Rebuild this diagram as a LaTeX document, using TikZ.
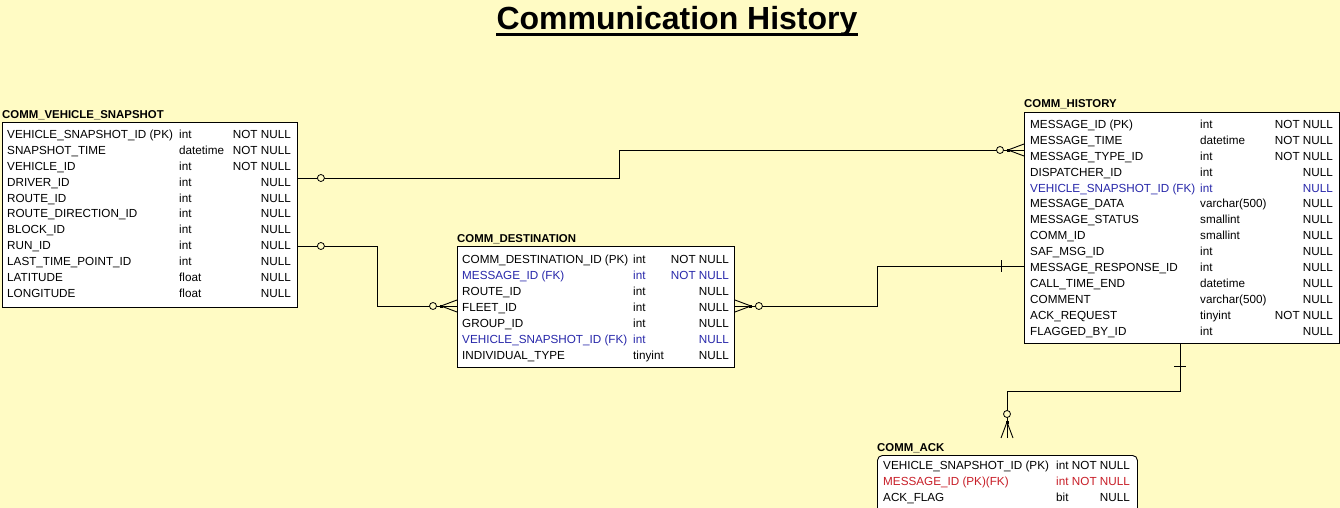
\documentclass[tikz,border=0pt]{standalone}
\usepackage{fontspec}
\setmainfont{Liberation Sans}
\usepackage{xcolor}
\usepackage{tikz}
\definecolor{paper}{RGB}{255,251,196}
\definecolor{fkblue}{RGB}{40,40,170}
\definecolor{pkred}{RGB}{200,30,40}

\begin{document}
\begin{tikzpicture}[x=1pt, y=1pt,
    tbl/.style = {draw, line width=.9pt, fill=white, inner sep=0, anchor=north west},
    tname/.style = {font=\fontsize{11.4}{13}\selectfont\bfseries, inner sep=0, anchor=base west},
    fld/.style = {font=\fontsize{11.7}{14}\selectfont, inner sep=0},
    rel/.style = {line width=.9pt},
    ocirc/.style = {draw, circle, fill=paper, line width=.8pt, inner sep=0, minimum size=7pt},
    crow/.pic = {
      \draw[rel] (0,6) -- (16,0) -- (0,-6);
      \fill (14.5,-1.5) rectangle (17.5,1.5);
      \node[ocirc] (-o) at (24,0) {};
    },
    crossbar/.pic = {\draw[rel] (23,-6) -- (23,6);}
  ]
  \fill[paper] (0,0) rectangle (1340,-508);
  \useasboundingbox (0,0) rectangle (1340,-508);

  \node[font=\fontsize{32}{38}\selectfont\bfseries, inner sep=0, anchor=base] (title) at (677,-30) {Communication History};
  \draw[line width=2.4pt] ([yshift=-4.5]title.base west) -- ([yshift=-4.5]title.base east);

  \node[tbl, minimum width=295, minimum height=185] (snap) at (2,-122) {};
  \node[tname] (snap-t) at ([yshift=4]snap.north west) {COMM\_VEHICLE\_SNAPSHOT};
  \foreach \c/\n/\t/\u [count=\i] in {
      black/VEHICLE\_SNAPSHOT\_ID (PK)/int/NOT NULL,
      black/SNAPSHOT\_TIME/datetime/NOT NULL,
      black/VEHICLE\_ID/int/NOT NULL,
      black/DRIVER\_ID/int/NULL,
      black/ROUTE\_ID/int/NULL,
      black/ROUTE\_DIRECTION\_ID/int/NULL,
      black/BLOCK\_ID/int/NULL,
      black/RUN\_ID/int/NULL,
      black/LAST\_TIME\_POINT\_ID/int/NULL,
      black/LATITUDE/float/NULL,
      black/LONGITUDE/float/NULL} {
    \node[fld, text=\c, anchor=base west] (snap-n\i) at (7,{-138.2-15.95*(\i-1)}) {\n};
    \node[fld, text=\c, anchor=base west] (snap-y\i) at (179,{-138.2-15.95*(\i-1)}) {\t};
    \node[fld, text=\c, anchor=base east] (snap-u\i) at (291,{-138.2-15.95*(\i-1)}) {\u};
  }

  \node[tbl, minimum width=277, minimum height=121] (dest) at (457,-246) {};
  \node[tname] (dest-t) at ([yshift=4]dest.north west) {COMM\_DESTINATION};
  \foreach \c/\n/\t/\u [count=\i] in {
      black/COMM\_DESTINATION\_ID (PK)/int/NOT NULL,
      fkblue/MESSAGE\_ID (FK)/int/NOT NULL,
      black/ROUTE\_ID/int/NULL,
      black/FLEET\_ID/int/NULL,
      black/GROUP\_ID/int/NULL,
      fkblue/VEHICLE\_SNAPSHOT\_ID (FK)/int/NULL,
      black/INDIVIDUAL\_TYPE/tinyint/NULL} {
    \node[fld, text=\c, anchor=base west] (dest-n\i) at (462,{-263.7-15.95*(\i-1)}) {\n};
    \node[fld, text=\c, anchor=base west] (dest-y\i) at (633,{-263.7-15.95*(\i-1)}) {\t};
    \node[fld, text=\c, anchor=base east] (dest-u\i) at (729,{-263.7-15.95*(\i-1)}) {\u};
  }

  \node[tbl, minimum width=315, minimum height=231] (hist) at (1024,-112) {};
  \node[tname] (hist-t) at ([yshift=4]hist.north west) {COMM\_HISTORY};
  \foreach \c/\n/\t/\u [count=\i] in {
      black/MESSAGE\_ID (PK)/int/NOT NULL,
      black/MESSAGE\_TIME/datetime/NOT NULL,
      black/MESSAGE\_TYPE\_ID/int/NOT NULL,
      black/DISPATCHER\_ID/int/NULL,
      fkblue/VEHICLE\_SNAPSHOT\_ID (FK)/int/NULL,
      black/MESSAGE\_DATA/varchar(500)/NULL,
      black/MESSAGE\_STATUS/smallint/NULL,
      black/COMM\_ID/smallint/NULL,
      black/SAF\_MSG\_ID/int/NULL,
      black/MESSAGE\_RESPONSE\_ID/int/NULL,
      black/CALL\_TIME\_END/datetime/NULL,
      black/COMMENT/varchar(500)/NULL,
      black/ACK\_REQUEST/tinyint/NOT NULL,
      black/FLAGGED\_BY\_ID/int/NULL} {
    \node[fld, text=\c, anchor=base west] (hist-n\i) at (1030,{-128.2-15.95*(\i-1)}) {\n};
    \node[fld, text=\c, anchor=base west] (hist-y\i) at (1200,{-128.2-15.95*(\i-1)}) {\t};
    \node[fld, text=\c, anchor=base east] (hist-u\i) at (1333,{-128.2-15.95*(\i-1)}) {\u};
  }

  \node[tbl, rounded corners=5pt, minimum width=260, minimum height=70] (ack) at (877,-455) {};
  \node[tname] (ack-t) at ([yshift=4]ack.north west) {COMM\_ACK};
  \foreach \c/\n/\t/\u [count=\i] in {
      black/VEHICLE\_SNAPSHOT\_ID (PK)/int/NOT NULL,
      pkred/MESSAGE\_ID (PK)(FK)/int/NOT NULL,
      black/ACK\_FLAG/bit/NULL} {
    \node[fld, text=\c, anchor=base west] (ack-n\i) at (883,{-469.7-15.95*(\i-1)}) {\n};
    \node[fld, text=\c, anchor=base west] (ack-y\i) at (1056,{-469.7-15.95*(\i-1)}) {\t};
    \node[fld, text=\c, anchor=base east] (ack-u\i) at (1130,{-469.7-15.95*(\i-1)}) {\u};
  }

  \coordinate (s1) at ([yshift=-56]snap.north east);
  \coordinate (s2) at ([yshift=-124]snap.north east);
  \coordinate (d1) at ([yshift=-60]dest.north west);
  \coordinate (d2) at ([yshift=-60]dest.north east);
  \coordinate (h1) at ([yshift=-38]hist.north west);
  \coordinate (h2) at ([yshift=-154]hist.north west);
  \coordinate (h3) at ([xshift=156]hist.south west);
  \coordinate (k1) at ([xshift=130,yshift=17]ack.north west);

  \draw[rel] (s1) -- ++(322,0) |- (h1);
  \draw[rel] (s2) -- ++(80,0) |- (d1);
  \draw[rel] (d2) -- ++(143,0) |- (h2);
  \draw[rel] (h3) -- ++(0,-48) -| (k1);

  \node[ocirc] (s1-o) at ([xshift=23]s1) {};
  \node[ocirc] (s2-o) at ([xshift=23]s2) {};
  \pic[rotate=180] (h1-f) at (h1) {crow};
  \pic[rotate=180] (d1-f) at (d1) {crow};
  \pic (d2-f) at (d2) {crow};
  \pic[rotate=180] (h2-b) at (h2) {crossbar};
  \pic[rotate=-90] (h3-b) at (h3) {crossbar};
  \pic[rotate=90] (k1-f) at (k1) {crow};
\end{tikzpicture}
\end{document}
